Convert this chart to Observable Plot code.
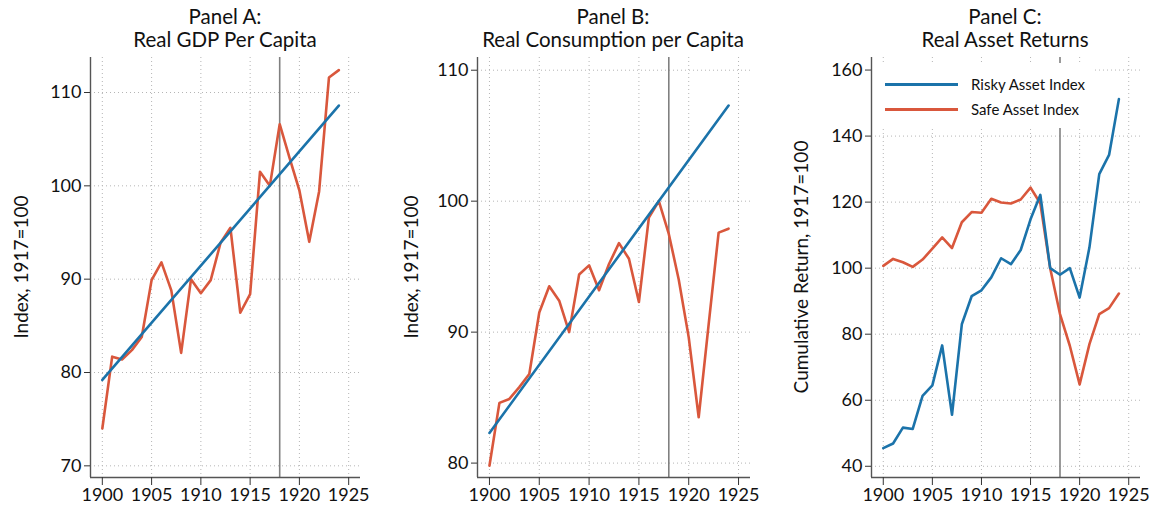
<!DOCTYPE html>
<html><head>
<meta charset="utf-8">
<script src="https://cdn.jsdelivr.net/npm/d3@7"></script>
<script src="https://cdn.jsdelivr.net/npm/@observablehq/plot@0.6"></script>
<style>
body{margin:0;background:#fff;font-family:Lato,sans-serif;}
#root{position:relative;width:1151px;height:512px;overflow:hidden;background:#fff}
.panel{position:absolute;top:0}
.title{position:absolute;top:5px;text-align:center;font-size:20.5px;line-height:23px;color:#111;white-space:nowrap;transform:translateX(-50%)}
.ylab{position:absolute;font-size:19px;white-space:nowrap;transform:translate(-50%,-50%) rotate(-90deg);color:#111}
.legend{position:absolute;left:873px;top:63px;width:220px;height:65px;background:#fff}
.legend .row{position:absolute;left:0;height:20px;width:220px}
.legend .sw{position:absolute;left:12px;top:9px;width:73px;height:2.6px}
.legend .lt{position:absolute;left:98px;top:0;font-size:15px;line-height:20px;color:#111;white-space:nowrap}
</style></head><body><div id="root"></div>
<script>
const years = [1900,1901,1902,1903,1904,1905,1906,1907,1908,1909,1910,1911,1912,1913,1914,1915,1916,1917,1918,1919,1920,1921,1922,1923,1924];
const gdp = [74.0,81.7,81.4,82.4,83.8,89.9,91.8,88.8,82.1,90.0,88.5,89.9,93.9,95.5,86.4,88.4,101.5,100.0,106.6,103.0,99.5,94.0,99.4,111.6,112.4];
const cons = [79.8,84.6,84.9,85.8,86.8,91.5,93.5,92.4,90.0,94.4,95.1,93.2,95.2,96.8,95.6,92.3,98.75,100.0,97.5,94.0,89.6,83.5,90.6,97.6,97.9];
const risky = [45.5,46.9,51.7,51.3,61.3,64.5,76.6,55.6,83.0,91.5,93.3,97.2,103.0,101.2,105.5,114.8,122.2,100.0,98.0,100.0,91.1,106.3,128.5,134.3,151.2];
const safe = [100.7,102.8,101.8,100.4,102.6,105.9,109.3,106.1,113.9,117.0,116.8,121.0,119.9,119.6,120.8,124.4,119.6,100.0,86.1,76.5,64.8,77.0,86.1,87.9,92.3];
const trendYears = [1900,1924];
const trendGdp = [79.2,108.6];
const trendCons = [82.3,107.3];
const xTicks = [1900,1905,1910,1915,1920,1925];
const yTicksA = [70,80,90,100,110];
const yTicksB = [80,90,100,110];
const yTicksC = [40,60,80,100,120,140,160];
const breakYear = [1918];
const titles = [["Panel A:","Real GDP Per Capita"],["Panel B:","Real Consumption per Capita"],["Panel C:","Real Asset Returns"]];
const yLabels = ["Index, 1917=100","Index, 1917=100","Cumulative Return, 1917=100"];
const legendNames = ["Risky Asset Index","Safe Asset Index"];

const BLUE = "#1b73aa", RED = "#d9573c";
const xDomain = [1898.8, 1926.2];
const root = document.getElementById("root");

function rows(ys, vs){ return ys.map((y,i)=>({year:y, v:vs[i]})); }

function panel(cfg){
  const {left, width, ml, mr, yDomain, yTicks, series} = cfg;
  const marks = [
    Plot.gridX({ticks:xTicks, stroke:"#b5b5b5", strokeOpacity:1, strokeDasharray:"1,3", strokeWidth:1}),
    Plot.gridY({ticks:yTicks, stroke:"#b5b5b5", strokeOpacity:1, strokeDasharray:"1,3", strokeWidth:1}),
    Plot.ruleX(breakYear, {stroke:"#808080", strokeWidth:1.6})
  ];
  for (const s of series) {
    marks.push(Plot.line(s.data, {x:"year", y:"v", stroke:s.color, strokeWidth:2.6}));
  }
  marks.push(
    Plot.ruleX([xDomain[0]], {stroke:"#555", strokeWidth:1.4}),
    Plot.ruleY([yDomain[0]], {stroke:"#555", strokeWidth:1.4}),
    Plot.axisX({ticks:xTicks, tickSize:8, tickPadding:3, tickFormat:d=>String(d), label:null, stroke:"#333"}),
    Plot.axisY({ticks:yTicks, tickSize:6, tickPadding:3, label:null, stroke:"#333"})
  );
  const svg = Plot.plot({
    width, height:512, marginLeft:ml, marginRight:mr, marginTop:57, marginBottom:35,
    x:{domain:xDomain}, y:{domain:yDomain},
    style:{fontFamily:"Lato, sans-serif", fontSize:"18px", color:"#111", background:"transparent", overflow:"visible"},
    marks
  });
  svg.classList.add("panel");
  svg.style.left = left + "px";
  root.appendChild(svg);
}

panel({left:0, width:380, ml:90, mr:20, yDomain:[68.75,113.75], yTicks:yTicksA,
  series:[{data:rows(years,gdp), color:RED},{data:rows(trendYears,trendGdp), color:BLUE}]});
panel({left:380, width:390, ml:97, mr:20, yDomain:[78.9,110.97], yTicks:yTicksB,
  series:[{data:rows(years,cons), color:RED},{data:rows(trendYears,trendCons), color:BLUE}]});
panel({left:770, width:381, ml:101, mr:11, yDomain:[36.6,163.8], yTicks:yTicksC,
  series:[{data:rows(years,safe), color:RED},{data:rows(years,risky), color:BLUE}]});

const titleX = [225, 613, 1005];
titles.forEach((t,i)=>{
  const d = document.createElement("div");
  d.className = "title"; d.style.left = titleX[i]+"px";
  d.innerHTML = t[0] + "<br>" + t[1];
  root.appendChild(d);
});
const ylabX = [20, 410, 800];
yLabels.forEach((t,i)=>{
  const d = document.createElement("div");
  d.className = "ylab"; d.style.left = ylabX[i]+"px"; d.style.top = "267px";
  d.textContent = t;
  root.appendChild(d);
});
const lg = document.createElement("div");
lg.className = "legend";
[[BLUE,legendNames[0],11],[RED,legendNames[1],36]].forEach(([c,name,top])=>{
  const r = document.createElement("div");
  r.className="row"; r.style.top = top+"px";
  r.innerHTML = `<div class="sw" style="background:${c}"></div><div class="lt">${name}</div>`;
  lg.appendChild(r);
});
root.appendChild(lg);
</script>
</body></html>
